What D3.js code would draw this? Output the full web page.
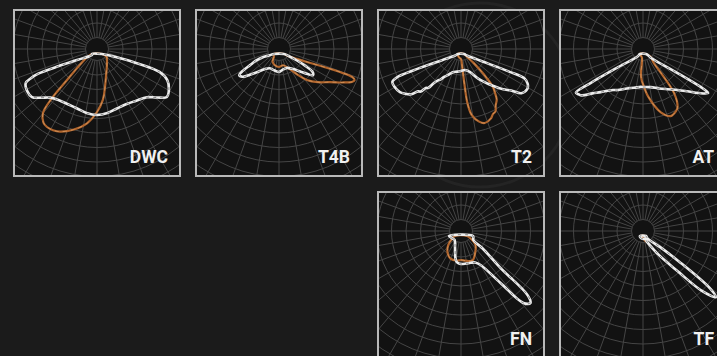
<!DOCTYPE html>
<html><head><meta charset="utf-8">
<script src="https://cdn.jsdelivr.net/npm/d3@7"></script>
<style>
html,body{margin:0;padding:0;background:#1b1b1b;overflow:hidden}
svg{display:block}
</style></head><body>
<svg id="chart" width="717" height="356"></svg>
<script>
// ---- data ----
const luminaires = ["DWC","T4B","T2","AT","FN","TF"];
const gridColumn = [0,1,2,3,2,3];
const gridRow    = [0,0,0,0,1,1];

// polar grid (intensity units) and spoke angles (deg from nadir)
const ringValues  = [23,52,81,110,139,168,197,226,255,284,313,342];
const spokeAngles = d3.range(-180,180,10);

// curves: [angle from nadir (deg, + = right), intensity]
const dwcWhite = [[-90,10],[-80,10],[-74,16],[-73,40],[-72.5,80],[-71.5,124],[-70,140],[-67.8,154],[-62,158],[-56.5,156],[-52,142],[-47,128],[-40,120],[-30,116],[-20,116],[-10,120],[0,122],[10,120],[20,116],[30,116],[40,122],[49,132],[54,148],[58.4,164],[64,160],[69.6,150],[74,130],[77.5,74],[81,36],[85,18],[90,10]];
const dwcBrown = [[-90,10],[-73,20],[-62,32],[-55,48],[-49,80],[-45.6,126],[-42.5,160],[-38,174],[-34.4,177],[-30,176],[-25.4,172],[-17,158],[-8.2,140],[0,116],[7.4,92],[13.6,68],[22,48],[35,34],[50,26],[73,20],[90,10]];

const t4bWhite = [[-90,10],[-82,20],[-79,32],[-74,48],[-69,62],[-65,80],[-62,90],[-58,86],[-54,70],[-50,56],[-42,40],[-33,34],[-15,34],[0,36],[15,32],[30,32],[42,40],[50,54],[55,70],[58,80],[62,76],[66,56],[72,32],[80,18],[90,10]];
const t4bBrown = [[-90,10],[-60,12],[-40,20],[-20,24],[0,26],[20,24],[35,36],[42,56],[47,76],[54,96],[61,116],[66,140],[69,156],[71,160],[72.5,154],[73.5,130],[74,80],[75,30],[80,16],[90,10]];

const t2White = [[-90,6],[-75,12],[-72,40],[-71,100],[-70,136],[-68,148],[-63,148],[-58,144],[-55,138],[-51,128],[-49,114],[-47,110],[-46,98],[-44,94],[-43,80],[-41,70],[-39,66],[-36,56],[-32,50],[-28,44],[-24,40],[-12,36],[0,34],[14,33],[26,40],[35,60],[45,90],[50,110],[54,124],[57,144],[62,150],[66,146],[69,136],[70,100],[71,40],[75,12],[90,6]];
const t2Brown = [[-90,6],[-30,8],[0,10],[5,20],[6.5,60],[7.5,100],[10,124],[15,140],[19,146],[25,142],[28,136],[31,134],[34,124],[38,116],[41,104],[44,92],[47,70],[50,50],[55,30],[63,14],[90,6]];

const atWhite = [[-90,6],[-65,12],[-62,60],[-61,120],[-60,155],[-58,152],[-56,148],[-52,128],[-48,114],[-40,94],[-35,88],[-25,76],[-15,70],[-4,66],[0,66],[13,68],[25,76],[35,86],[44,100],[50,116],[55,136],[59,152],[60,140],[61,80],[63,20],[90,6]];
const atBrown = [[-90,6],[-15,8],[-6,40],[-3,52],[0,60],[7,86],[17,122],[24,136],[30,132],[33,127],[38.5,100],[43.5,52],[50,28],[70,16],[90,6]];

const fnWhite = [[-90,24],[-75,18],[-60,15],[-45,17],[-30,24],[-20,34],[-15,44],[-10,52],[-5,55],[0,56],[10,56],[20,57],[28,60],[34,70],[40,122],[43,183],[46,193],[48.4,178],[51,102],[60,50],[72,26],[90,24]];
const fnBrown = [[-90,12],[-70,20],[-55,31],[-40,42],[-25,50],[-10,50],[0,48],[10,50],[25,54],[40,44],[58,34],[75,20],[90,12]];

const tfWhite = [[-90,6],[-60,6],[0,6],[30,6],[35,16],[40,50],[44.6,100],[47,160],[50,190],[52,170],[54.7,88],[57,40],[62,10],[90,6]];
const tfBrown = [[-90,4],[0,4],[27,12],[50,10],[70,6],[90,4]];

const whiteSeries = [dwcWhite,t4bWhite,t2White,atWhite,fnWhite,tfWhite];
const brownSeries = [dwcBrown,t4bBrown,t2Brown,atBrown,fnBrown,tfBrown];

// ---- layout ----
const svg = d3.select("#chart");
const size = 166;
const colScale = d3.scaleBand().domain(d3.range(4)).range([14, 726]).paddingInner(16/182).paddingOuter(0);
const rowScale = d3.scaleBand().domain(d3.range(2)).range([10, 358]).paddingInner(16/182).paddingOuter(0);
const gridDrop = 39, curveDrop = 44;
const rScale = d3.scaleLinear().domain([0,300]).range([0,150]);
const rad = d => d*Math.PI/180;

const radial = d3.lineRadial()
  .angle(d => Math.PI - rad(d[0]))
  .radius(d => rScale(d[1]))
  .curve(d3.curveCatmullRomClosed.alpha(0.5));

const defs = svg.append("defs");

// faint background decoration
svg.append("circle").attr("cx", 480).attr("cy", 95).attr("r", 92)
  .attr("fill","none").attr("stroke","#242424").attr("stroke-width",3);

luminaires.forEach((name, i) => {
  const x0 = colScale(gridColumn[i]), y0 = rowScale(gridRow[i]);
  const cx = x0 + size/2;
  const clipId = "clip"+i;
  defs.append("clipPath").attr("id", clipId)
    .append("rect").attr("x", x0).attr("y", y0).attr("width", size).attr("height", size);

  const g = svg.append("g");
  g.append("rect").attr("x", x0).attr("y", y0).attr("width", size).attr("height", size)
    .attr("fill", "#121212");

  const clipped = g.append("g").attr("clip-path", `url(#${clipId})`);
  const grid = clipped.append("g").attr("transform", `translate(${cx},${y0 + gridDrop})`);
  const plot = clipped.append("g").attr("transform", `translate(${cx},${y0 + curveDrop})`);

  grid.selectAll("circle.ring").data(ringValues).join("circle")
    .attr("class","ring").attr("r", d => rScale(d))
    .attr("fill","none").attr("stroke","#454545").attr("stroke-width",1);

  const rIn = rScale(ringValues[0]), rOut = rScale(400);
  grid.selectAll("line.spoke").data(spokeAngles).join("line")
    .attr("class","spoke")
    .attr("x1", d => rIn*Math.sin(rad(d))).attr("y1", d => rIn*Math.cos(rad(d)))
    .attr("x2", d => rOut*Math.sin(rad(d))).attr("y2", d => rOut*Math.cos(rad(d)))
    .attr("stroke","#454545").attr("stroke-width",1);

  // brown curve
  plot.append("path").attr("d", radial(brownSeries[i]))
    .attr("fill","none").attr("stroke","#b0652d").attr("stroke-width",2.2).attr("stroke-linejoin","round");
  plot.append("path").attr("d", radial(brownSeries[i]))
    .attr("fill","none").attr("stroke","#dc9f66").attr("stroke-width",0.7).attr("stroke-dasharray","4,4");

  // white curve
  plot.append("path").attr("d", radial(whiteSeries[i]))
    .attr("fill","none").attr("stroke","#ececec").attr("stroke-width",2.6).attr("stroke-linejoin","round");
  plot.append("path").attr("d", radial(whiteSeries[i]))
    .attr("fill","none").attr("stroke","#6c6c6c").attr("stroke-width",0.8).attr("stroke-dasharray","3,4");

  g.append("rect").attr("x", x0).attr("y", y0).attr("width", size).attr("height", size)
    .attr("fill","none").attr("stroke","#b9b9b9").attr("stroke-width",2);

  g.append("text").attr("x", x0 + size - 12).attr("y", y0 + size - 13)
    .attr("text-anchor","end")
    .attr("font-family","Roboto, 'DejaVu Sans', sans-serif").attr("font-weight",700)
    .attr("font-size",17.5).attr("fill","#f0f0f0")
    .text(name);
});
</script>
</body></html>
